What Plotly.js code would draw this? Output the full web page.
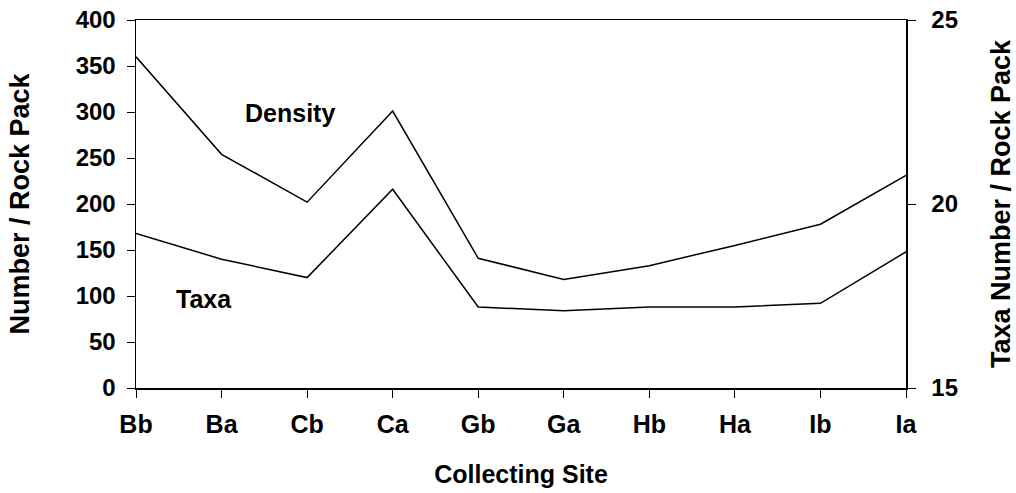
<!DOCTYPE html>
<html>
<head>
<meta charset="utf-8">
<script src="https://cdn.plot.ly/plotly-3.0.1.min.js"></script>
<style>html,body{margin:0;padding:0;background:#fff;}#chart{width:1016px;height:493px;}</style>
</head>
<body>
<div id="chart"></div>
<script>
const sites = ["Bb","Ba","Cb","Ca","Gb","Ga","Hb","Ha","Ib","Ia"];
const density = [360, 254, 202, 301, 141, 118, 133, 155, 178, 231];
const taxa = [19.2, 18.5, 18.0, 20.4, 17.2, 17.1, 17.2, 17.2, 17.3, 18.7];
const leftTicks = [0, 50, 100, 150, 200, 250, 300, 350, 400];
const rightTicks = [15, 20, 25];

const F = "Liberation Sans, Arial, sans-serif";

const traces = [
  {x: sites, y: density, type: "scatter", mode: "lines", name: "Density",
   line: {color: "#000", width: 1.5}, yaxis: "y", cliponaxis: false},
  {x: sites, y: taxa, type: "scatter", mode: "lines", name: "Taxa",
   line: {color: "#000", width: 1.5}, yaxis: "y2", cliponaxis: false}
];

const layout = {
  width: 1016, height: 493,
  margin: {l: 136, r: 110, t: 20, b: 105},
  paper_bgcolor: "#fff", plot_bgcolor: "#fff",
  showlegend: false,
  font: {family: F, color: "#000"},
  xaxis: {
    type: "category", range: [0, sites.length - 1],
    showline: true, mirror: true, linecolor: "#000", linewidth: 1.5,
    ticks: "outside", ticklen: 8, tickcolor: "#000", tickwidth: 1,
    showgrid: false, zeroline: false,
    ticklabelstandoff: 5,
    tickfont: {size: 25, weight: "bold"},
    title: {text: "<b>Collecting Site</b>", font: {size: 25}, standoff: 29}
  },
  yaxis: {
    range: [0, 400], tickvals: leftTicks, ticktext: leftTicks.map(String),
    showline: true, linecolor: "#000", linewidth: 1.5,
    ticks: "outside", ticklen: 8, tickcolor: "#000", tickwidth: 1,
    showgrid: false, zeroline: false,
    ticklabelstandoff: 6,
    tickfont: {size: 24, weight: "bold"},
    title: {text: "<b>Number / Rock Pack</b>", font: {size: 27}, standoff: 38}
  },
  yaxis2: {
    range: [15, 25], tickvals: rightTicks, ticktext: rightTicks.map(String),
    overlaying: "y", side: "right",
    showline: true, linecolor: "#000", linewidth: 1.5,
    ticks: "outside", ticklen: 8, tickcolor: "#000", tickwidth: 1,
    showgrid: false, zeroline: false,
    ticklabelstandoff: 11,
    tickfont: {size: 24, weight: "bold"},
    title: {text: "<b>Taxa Number / Rock Pack</b>", font: {size: 27}, standoff: 34}
  },
  annotations: [
    {text: "<b>Density</b>", xref: "paper", yref: "paper", x: 0.1994, y: 0.746,
     xanchor: "center", yanchor: "middle", showarrow: false, font: {size: 25}},
    {text: "<b>Taxa</b>", xref: "paper", yref: "paper", x: 0.0884, y: 0.243,
     xanchor: "center", yanchor: "middle", showarrow: false, font: {size: 25}}
  ]
};

Plotly.newPlot("chart", traces, layout, {displayModeBar: false, staticPlot: true});
</script>
</body>
</html>
